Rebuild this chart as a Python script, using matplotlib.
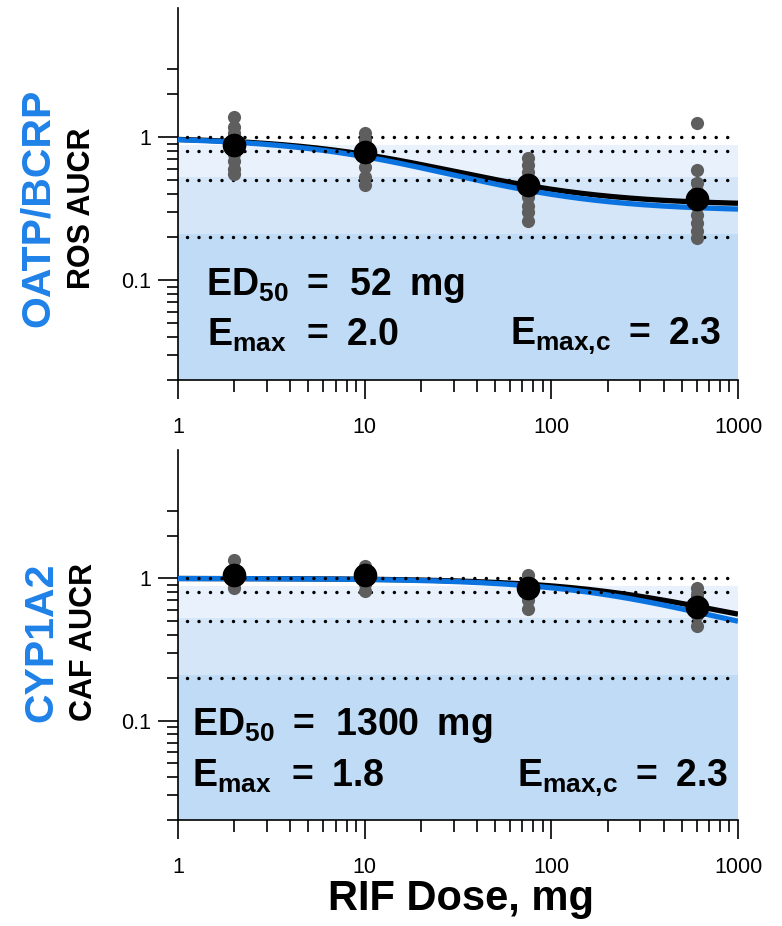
import numpy as np
import matplotlib
matplotlib.use('Agg')
import matplotlib.pyplot as plt
from matplotlib.ticker import FixedLocator, NullFormatter, FixedFormatter

plt.rcParams['font.family'] = ['Liberation Sans', 'DejaVu Sans']
plt.rcParams['mathtext.fontset'] = 'custom'
plt.rcParams['mathtext.rm'] = 'Liberation Sans:bold'
plt.rcParams['mathtext.it'] = 'Liberation Sans:bold'
plt.rcParams['mathtext.bf'] = 'Liberation Sans:bold'

# ---------------- data ----------------
doses = [2, 10, 75, 600]

ros_points = [
    [1.38, 1.17, 1.07, 0.97, 0.90, 0.84, 0.76, 0.68, 0.60, 0.55],
    [1.06, 0.95, 0.86, 0.80, 0.72, 0.62, 0.53, 0.46],
    [0.71, 0.64, 0.57, 0.50, 0.43, 0.38, 0.33, 0.30, 0.26],
    [1.25, 0.59, 0.48, 0.42, 0.33, 0.285, 0.25, 0.22, 0.196],
]
ros_means = [0.88, 0.79, 0.46, 0.37]

caf_points = [
    [1.35, 1.17, 1.04, 0.93, 0.86],
    [1.23, 1.13, 1.01, 0.92, 0.82],
    [1.06, 0.96, 0.82, 0.70, 0.61],
    [0.85, 0.76, 0.64, 0.55, 0.46],
]
caf_means = [1.05, 1.05, 0.85, 0.63]

ros_ed50, ros_emax, ros_emax_c = 52, 2.0, 2.3
caf_ed50, caf_emax, caf_emax_c = 1300, 1.8, 2.3

ref_lines = [1.0, 0.8, 0.5, 0.2]
band_edges = [0.02, 0.21, 0.53, 0.88]
band_colors = ['#bfdbf5', '#d4e6f8', '#e8f1fc']

x_ticks = [1, 10, 100, 1000]
x_ticklabels = ['1', '10', '100', '1000']
y_ticks = [0.1, 1]
y_ticklabels = ['0.1', '1']

panels = [
    dict(name='OATP/BCRP', ylab='ROS AUCR', pts=ros_points, means=ros_means,
         ed50=ros_ed50, emax=ros_emax, emax_c=ros_emax_c),
    dict(name='CYP1A2', ylab='CAF AUCR', pts=caf_points, means=caf_means,
         ed50=caf_ed50, emax=caf_emax, emax_c=caf_emax_c),
]

W, H = 782, 926
fig = plt.figure(figsize=(W / 100, H / 100), dpi=100)

axes_px = [(178, 8, 738, 380), (178, 450, 738, 820)]
name_pos = [(38, 208), (41, 642)]
ylab_pos = [(82, 208), (84, 642)]
text_px = [
    dict(ed=(206, 295), em=(207, 346), emc_right=(721, 345)),
    dict(ed=(192, 735), em=(192, 787), emc_right=(728, 787)),
]

BLUE_LINE = '#0a73e0'
BLUE_TEXT = '#1f82e8'
GRAY = '#5e5e5e'
THIN = '\u2009'

d_grid = np.logspace(0, 3, 300)

for i, p in enumerate(panels):
    x0, y0, x1, y1 = axes_px[i]
    ax = fig.add_axes([x0 / W, 1 - y1 / H, (x1 - x0) / W, (y1 - y0) / H])
    ax.set_xscale('log')
    ax.set_yscale('log')
    ax.set_xlim(1, 1000)
    ax.set_ylim(0.02, 8)

    for lo, hi, c in zip(band_edges[:-1], band_edges[1:], band_colors):
        ax.axhspan(lo, hi, color=c, lw=0, zorder=0)

    black_curve = 1 / (1 + p['emax'] * d_grid / (p['ed50'] + d_grid))
    blue_curve = 1 / (1 + p['emax_c'] * d_grid / (p['ed50'] + d_grid))
    ax.plot(d_grid, black_curve, color='black', lw=3.8, zorder=2, solid_capstyle='butt')
    ax.plot(d_grid, blue_curve, color=BLUE_LINE, lw=3.8, zorder=3, solid_capstyle='butt')

    for r in ref_lines:
        ax.plot([1.12, 900], [r, r], color='black', lw=2.5, linestyle=(0, (0.01, 3.3)),
                dash_capstyle='round', zorder=4)

    for d, pts in zip(doses, p['pts']):
        ax.scatter([d] * len(pts), pts, s=90, color=GRAY, lw=0, zorder=5)
    ax.scatter(doses, p['means'], s=290, color='black', lw=0, zorder=6)

    # spines / ticks
    for s in ['top', 'right']:
        ax.spines[s].set_visible(False)
    for s in ['left', 'bottom']:
        ax.spines[s].set_linewidth(1.2)
    ax.xaxis.set_major_locator(FixedLocator(x_ticks))
    ax.xaxis.set_major_formatter(FixedFormatter(x_ticklabels))
    ax.xaxis.set_minor_locator(FixedLocator([m * 10 ** k for k in range(3) for m in range(2, 10)]))
    ax.xaxis.set_minor_formatter(NullFormatter())
    ax.yaxis.set_major_locator(FixedLocator(y_ticks))
    ax.yaxis.set_major_formatter(FixedFormatter(y_ticklabels))
    ax.yaxis.set_minor_locator(FixedLocator(
        [m * 0.01 for m in range(2, 10)] + [m * 0.1 for m in range(2, 10)] + [2, 3]))
    ax.yaxis.set_minor_formatter(NullFormatter())
    ax.tick_params(axis='x', which='major', length=13.5, width=1.2, pad=13, labelsize=15.5)
    ax.tick_params(axis='x', which='minor', length=8.5, width=1.2)
    ax.tick_params(axis='y', which='major', length=14.5, width=1.2, pad=5, labelsize=15.5)
    ax.tick_params(axis='y', which='minor', length=8, width=1.2)

    # annotations
    tp = text_px[i]
    def ax_frac(px, py):
        return (px - x0) / (x1 - x0), (y1 - py) / (y1 - y0)
    fs = 27
    ax.text(*ax_frac(*tp['ed']), 'ED$_{50}$' + THIN + ' =  %g ' % p['ed50'] + THIN + 'mg',
            transform=ax.transAxes, fontsize=fs, fontweight='bold', va='baseline',
            ha='left', zorder=7)
    ax.text(*ax_frac(*tp['em']), 'E$_{max}$  =' + THIN + ' %.1f' % p['emax'],
            transform=ax.transAxes, fontsize=fs, fontweight='bold', va='baseline',
            ha='left', zorder=7)
    ax.text(*ax_frac(*tp['emc_right']), 'E$_{max{,}c}$' + THIN + ' =' + THIN + ' %.1f' % p['emax_c'],
            transform=ax.transAxes, fontsize=fs, fontweight='bold', va='baseline',
            ha='right', zorder=7)

    nx, ny = name_pos[i]
    fig.text(nx / W, 1 - ny / H, p['name'], rotation=90, ha='center', va='center',
             fontsize=29.5, fontweight='bold', color=BLUE_TEXT)
    lx, ly = ylab_pos[i]
    fig.text(lx / W, 1 - ly / H, p['ylab'], rotation=90, ha='center', va='center',
             fontsize=22, fontweight='bold', color='black')

fig.text(461 / W, 1 - 910 / H, 'RIF Dose, mg', ha='center', va='baseline',
         fontsize=30, fontweight='bold')

fig.savefig('out.png', dpi=100)
